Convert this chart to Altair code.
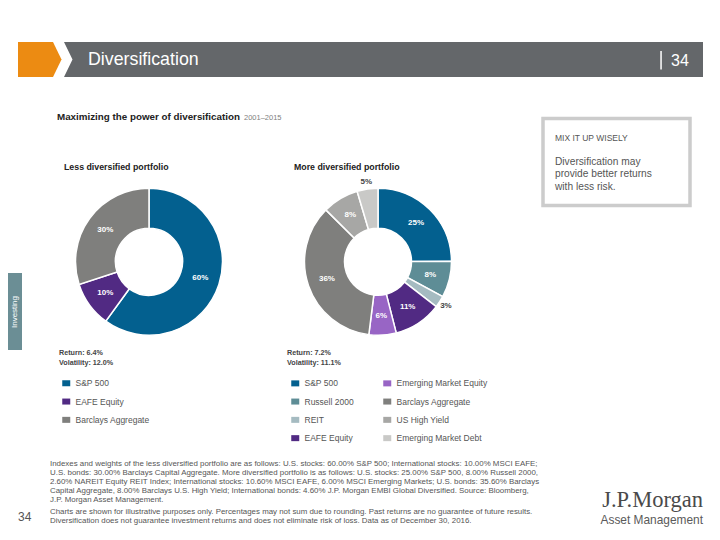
import altair as alt
import pandas as pd

OX, OY = 8, 8  # page margin: chart pixel = image pixel - 8
SANS = "Liberation Sans, Arial, Helvetica, sans-serif"
SERIF = "Liberation Serif, Times New Roman, serif"

# ---------------- data ----------------
less_names = ["S&P 500", "EAFE Equity", "Barclays Aggregate"]
less_values = [60.0, 10.0, 30.0]
less_colors = ["#03608F", "#512A83", "#7F7F7D"]

more_names = ["S&P 500", "Russell 2000", "REIT", "EAFE Equity",
              "Emerging Market Equity", "Barclays Aggregate", "US High Yield",
              "Emerging Market Debt"]
more_values = [25.0, 8.0, 2.6, 10.6, 6.0, 35.6, 8.0, 4.6]
more_colors = ["#03608F", "#5E8D96", "#A5BBC1", "#512A83",
               "#9865C5", "#7F7F7D", "#A7A7A5", "#C9C9C7"]

portfolio_titles = ["Less diversified portfolio", "More diversified portfolio"]
portfolio_returns = [6.4, 7.2]
portfolio_vols = [12.0, 11.1]

footnote_1 = [
    "Indexes and weights of the less diversified portfolio are as follows: U.S. stocks: 60.00% S&P 500; International stocks: 10.00% MSCI EAFE;",
    "U.S. bonds: 30.00% Barclays Capital Aggregate. More diversified portfolio is as follows: U.S. stocks: 25.00% S&P 500, 8.00% Russell 2000,",
    "2.60% NAREIT Equity REIT Index; International stocks: 10.60% MSCI EAFE, 6.00% MSCI Emerging Markets; U.S. bonds: 35.60% Barclays",
    "Capital Aggregate, 8.00% Barclays U.S. High Yield; International bonds: 4.60% J.P. Morgan EMBI Global Diversified. Source: Bloomberg,",
    "J.P. Morgan Asset Management.",
]
footnote_2 = [
    "Charts are shown for illustrative purposes only. Percentages may not sum due to rounding. Past returns are no guarantee of future results.",
    "Diversification does not guarantee investment returns and does not eliminate risk of loss. Data as of December 30, 2016.",
]
callout_lines = ["Diversification may", "provide better returns", "with less risk."]

one = pd.DataFrame({"k": [0]})


def px(v):
    return alt.value(v - OX)


def py(v):
    return alt.value(v - OY)


def text(s, x, y, size, color="#333333", weight="normal", align="left",
         baseline="middle", font=SANS, angle=None, line_height=None):
    kw = dict(fontSize=size, color=color, fontWeight=weight, align=align,
              baseline=baseline, font=font)
    if angle is not None:
        kw["angle"] = angle
    if line_height is not None:
        kw["lineBreak"] = "\n"
        kw["lineHeight"] = line_height
    return alt.Chart(pd.DataFrame({"t": [s]})).mark_text(**kw).encode(
        x=px(x), y=py(y), text="t:N")


def rect(x1, y1, x2, y2, **kw):
    return alt.Chart(one).mark_rect(**kw).encode(
        x=px(x1), x2=px(x2), y=py(y1), y2=py(y2))


def poly(points, color):
    path = "M" + "L".join(f"{x - OX},{y - OY}" for x, y in points) + "Z"
    return alt.Chart(one).mark_point(
        shape=path, size=4, filled=True, color=color, opacity=1, strokeWidth=0
    ).encode(x=alt.value(0), y=alt.value(0))


RECT_SYM = "M-1,-0.75L1,-0.75L1,0.75L-1,0.75Z"


def donut(names, values, colors, cx, cy, lx, ly, columns, col_pad):
    df = pd.DataFrame({"name": names, "value": values, "idx": list(range(len(names)))})
    df["label"] = [f"{v:.0f}%" for v in values]
    base = alt.Chart(df)
    theta = alt.Theta("value:Q", stack=True)
    arcs = base.mark_arc(innerRadius=33.5, outerRadius=73.5, stroke="white",
                         strokeWidth=1.5).encode(
        theta=theta,
        order=alt.Order("idx:Q"),
        color=alt.Color("name:N", scale=alt.Scale(domain=names, range=colors),
                        legend=alt.Legend(
                            title=None, orient="none", legendX=lx - OX, legendY=ly - OY,
                            columns=columns, values=names,
                            symbolType=RECT_SYM, symbolSize=64, symbolStrokeWidth=0,
                            symbolOpacity=1,
                            labelFont=SANS, labelFontSize=8.5, labelColor="#555555",
                            labelOffset=5, rowPadding=9.3, columnPadding=col_pad,
                            padding=0, offset=0)),
        x=px(cx), y=py(cy))
    inside = base.mark_text(fontSize=8, fontWeight="bold", color="white", font=SANS).encode(
        theta=theta, order=alt.Order("idx:Q"), detail="name:N",
        radius=alt.value(54),
        text=alt.condition("datum.value >= 5.5", "label:N", alt.value("")),
        x=px(cx), y=py(cy))
    outside = base.mark_text(fontSize=8, fontWeight="bold", color="#444444", font=SANS).encode(
        theta=theta, order=alt.Order("idx:Q"), detail="name:N",
        radius=alt.value(81),
        text=alt.condition("datum.value < 5.5", "label:N", alt.value("")),
        x=px(cx), y=py(cy))
    return [arcs, inside, outside]


layers = []

# header bar
layers.append(poly([(18, 42), (53, 42), (61.5, 59.5), (53, 77), (18, 77)], "#EC8B12"))
layers.append(poly([(64, 42), (703, 42), (703, 77), (64, 77), (72.5, 59.5)], "#64676A"))
layers.append(text("Diversification", 88, 60, 17.8, color="white"))
layers.append(rect(660.3, 51, 661.8, 69.5, color="white"))
layers.append(text("34", 671, 60.5, 16, color="white"))

# side tab
layers.append(rect(8, 273, 22, 350, color="#6B8E95"))
layers.append(text("Investing", 14.5, 312, 8, color="white", align="center", angle=270))

# titles
layers.append(text("Maximizing the power of diversification", 57, 117, 9.8,
                   color="#222222", weight="bold"))
layers.append(text("2001\u20132015", 244, 117.5, 7.5, color="#808080"))
layers.append(text(portfolio_titles[0], 64, 167, 8.8, color="#222222", weight="bold"))
layers.append(text(portfolio_titles[1], 294, 167, 8.8, color="#222222", weight="bold"))

# callout box
layers.append(rect(543, 118.5, 690, 205.5, fill="white", stroke="#CCCCCC", strokeWidth=3.5))
layers.append(text("MIX IT UP WISELY", 555, 137.5, 8.5, color="#555555"))
layers.append(text("\n".join(callout_lines), 555, 156.5, 10.2, color="#555555",
                   baseline="top", line_height=12.6))

# donuts + legends
layers += donut(less_names, less_values, less_colors, 149, 261.7, 62, 379, 1, 10)
layers += donut(more_names, more_values, more_colors, 378, 261.7, 291, 379, 2, 29)

# return / volatility
for i, x0 in enumerate([59, 287]):
    layers.append(text(f"Return: {portfolio_returns[i]:.1f}%", x0, 353, 7.2,
                       color="#444444", weight="bold"))
    layers.append(text(f"Volatility: {portfolio_vols[i]:.1f}%", x0, 363, 7.2,
                       color="#444444", weight="bold"))

# footnotes
layers.append(text("\n".join(footnote_1), 50, 459.5, 7.9, color="#555555",
                   baseline="top", line_height=9.2))
layers.append(text("\n".join(footnote_2), 50, 507.5, 7.9, color="#555555",
                   baseline="top", line_height=9.2))
layers.append(text("34", 18, 517, 12, color="#555555"))

# logo
layers.append(text("J.P.Morgan", 703, 507, 22.5, color="#4A4A4A", align="right",
                   baseline="alphabetic", font=SERIF))
layers.append(text("Asset Management", 703, 524, 11.9, color="#5A5A5A", align="right",
                   baseline="alphabetic"))

chart = alt.layer(*layers).resolve_scale(
    theta="independent", color="independent"
).properties(
    width=704, height=524, padding=0,
    autosize=alt.AutoSizeParams(type="none"),
    background="white",
).configure_view(stroke=None)

chart.save("out.html", embed_options={"renderer": "svg", "actions": False})
